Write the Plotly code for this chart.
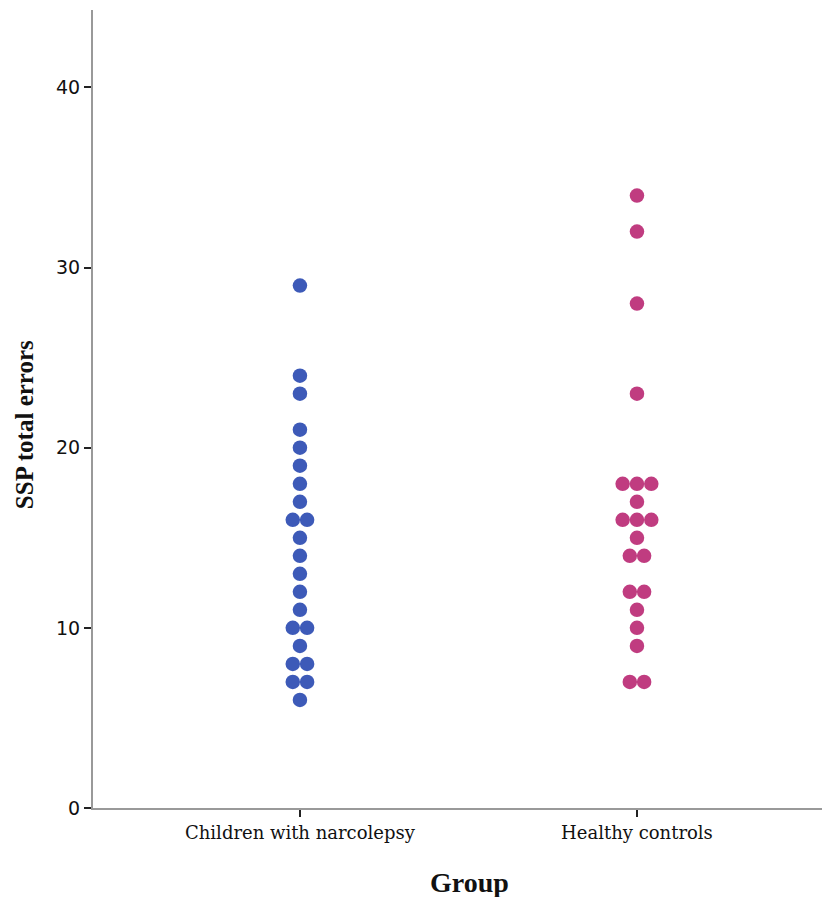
import plotly.graph_objects as go
from collections import Counter

# SSP total errors per participant
groups = ["Children with narcolepsy", "Healthy controls"]
narcolepsy_errors = [29, 24, 23, 21, 20, 19, 18, 17, 16, 16, 15, 14, 13, 12, 11,
                     10, 10, 9, 8, 8, 7, 7, 6]
control_errors = [34, 32, 28, 23, 18, 18, 18, 17, 16, 16, 16, 15, 14, 14, 12, 12,
                  11, 10, 9, 7, 7]
colors = ["#3d5ab8", "#c03c80"]
y_ticks = [0, 10, 20, 30, 40]

DOT_STEP = 0.0425  # horizontal spacing between stacked dots (x units)


def dot_positions(values, center):
    xs, ys = [], []
    counts = Counter(values)
    for v, n in counts.items():
        for k in range(n):
            xs.append(center + (k - (n - 1) / 2) * DOT_STEP)
            ys.append(v)
    return xs, ys


fig = go.Figure()
for i, (vals, col) in enumerate(zip([narcolepsy_errors, control_errors], colors)):
    xs, ys = dot_positions(vals, i)
    fig.add_trace(go.Scatter(
        x=xs, y=ys, mode="markers",
        marker=dict(size=14.5, color=col, line=dict(width=0)),
        showlegend=False,
    ))

title_font = dict(family="Liberation Serif", color="#111")
fig.add_annotation(text="<b>SSP total errors</b>", xref="paper", yref="paper",
                   x=-0.093, y=0.48, xanchor="center", yanchor="middle",
                   textangle=-90, showarrow=False,
                   font=dict(size=25, **title_font))
fig.add_annotation(text="<b>Group</b>", xref="paper", yref="paper",
                   x=0.516, y=-0.093, xanchor="center", yanchor="middle",
                   showarrow=False,
                   font=dict(size=28, **title_font))

fig.update_layout(
    width=825, height=897,
    margin=dict(l=93, r=3, t=10, b=89),
    plot_bgcolor="white", paper_bgcolor="white",
    xaxis=dict(
        range=[-0.614, 1.549],
        tickmode="array", tickvals=[0, 1], ticktext=groups,
        ticks="outside", ticklen=7, tickcolor="#222", tickwidth=1.5,
        showline=True, linecolor="#999999", linewidth=2,
        showgrid=False, zeroline=False,
        tickfont=dict(family="DejaVu Serif", size=18, color="#111"),
    ),
    yaxis=dict(
        range=[0, 44.3],
        tickmode="array", tickvals=y_ticks,
        ticks="outside", ticklen=7, tickcolor="#222", tickwidth=1.5,
        showline=True, linecolor="#999999", linewidth=2,
        showgrid=False, zeroline=False,
        tickfont=dict(family="DejaVu Sans", size=19, color="#111"),
    ),
)

fig.write_html("out.html")
